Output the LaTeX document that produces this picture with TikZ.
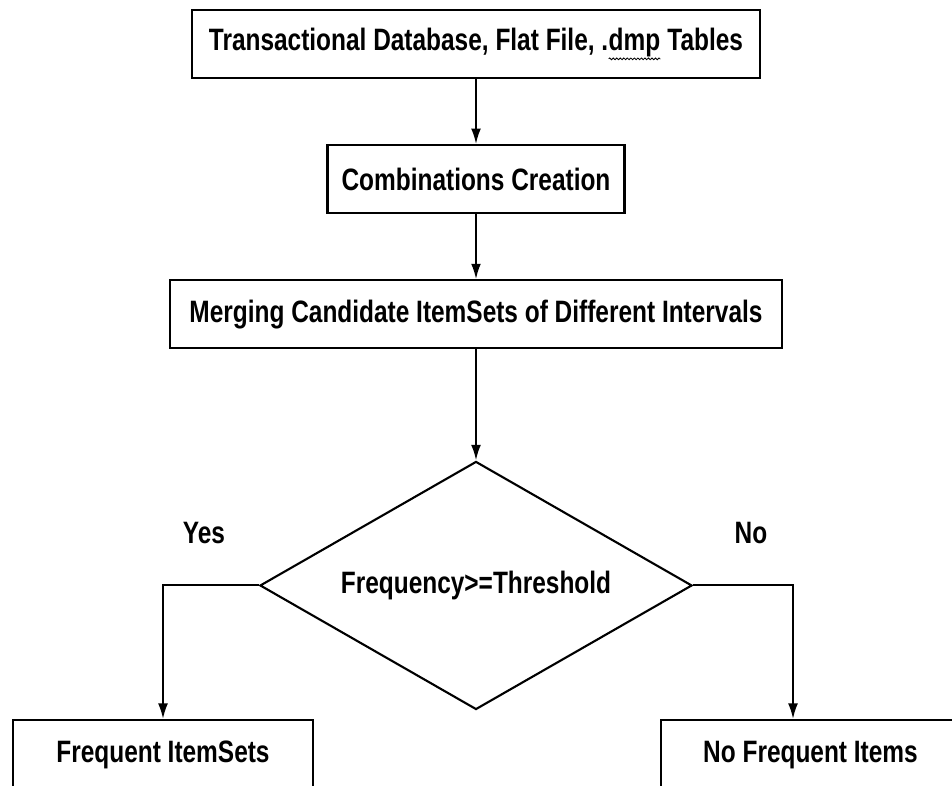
\documentclass[tikz,border=0pt]{standalone}
\usepackage{fontspec}
\newfontfamily\flowfont[FakeStretch=0.79]{Liberation Sans}
\usepackage{tikz}
\usetikzlibrary{positioning,shapes.geometric,arrows.meta,decorations.pathmorphing}
\newcommand{\squig}[1]{\tikz[baseline=(sq.base)]{\node[draw=none, inner sep=0pt, outer sep=0pt, minimum width=0pt, minimum height=0pt] (sq) {#1};\draw[line width=0.6pt,decorate,decoration={snake,amplitude=0.6pt,segment length=2.5pt}] ([yshift=-1.5pt]sq.south west) -- ([yshift=-1.5pt]sq.south east);}}

\begin{document}
\begin{tikzpicture}[x=0.025cm, y=-0.025cm,
	every node/.style={align=center,
                        font=\flowfont\bfseries\fontsize{22}{26}\selectfont,
                        inner sep=0pt
                        },
	proc/.style= {draw,
    			  line width=1.5pt,
                  minimum height=1.7cm
    },
	decision/.style={diamond, draw, line width=1.5pt, aspect=1.74,
                  minimum width=10.8cm, minimum height=6.2cm},
	flow/.style={-{Latex[length=11pt,width=7pt]}, line width=1.4pt}
]
	\fill[white] (0,0) rectangle (952,785);
	\useasboundingbox (0,0) rectangle (952,785);
	\clip (0,0) rectangle (952,785);
	\node (source) [proc, minimum width=14.2cm] at (476,44) {Transactional Database, Flat File, .\squig{dmp} Tables};
    \node (combine) [proc, minimum width=7.425cm, below=1.625cm of source] {Combinations Creation};
    \node (merge) [proc, minimum width=15.3cm, below=1.625cm of combine] {Merging Candidate ItemSets of Different Intervals};
    \node (check) [decision, below=2.775cm of merge] {Frequency>=Threshold};
    \node (frequent) [proc, minimum width=7.5cm, minimum height=1.75cm] at (163,755) {Frequent ItemSets};
    \node (infrequent) [proc, minimum width=7.475cm, minimum height=1.75cm] at (810.5,755) {No Frequent Items};
    \node (yes) at (204,533) {Yes};
    \node (no) at (751,533) {No};
    \coordinate (nodrop) at (793,582);
    \draw[flow] (source) -- (combine);
    \draw[flow] (combine) -- (merge);
    \draw[flow] (merge) -- (check);
    \draw[flow] (check.west) -| (frequent.north);
    \draw[flow] (check.east) -| (infrequent.north -| nodrop);
\end{tikzpicture}
\end{document}
